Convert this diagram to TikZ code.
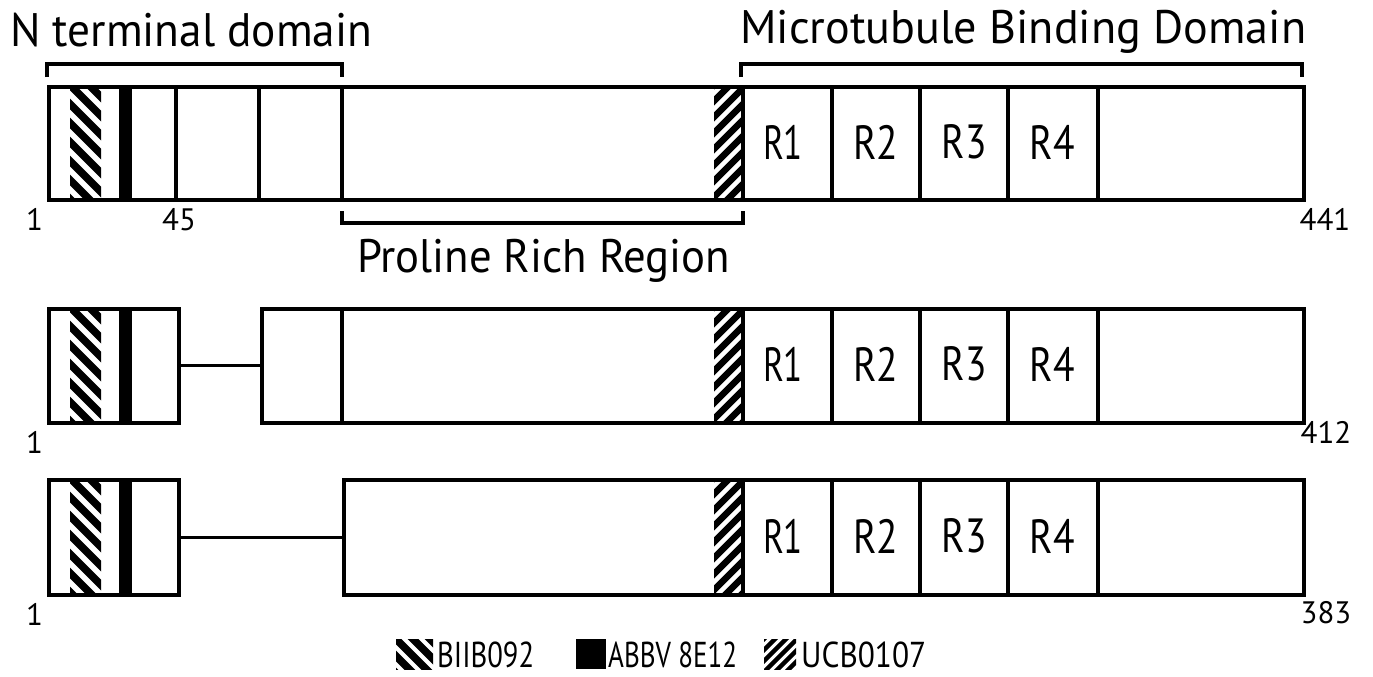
\documentclass[tikz,border=0pt]{standalone}
\usepackage{fontspec}
\setmainfont{PT Sans}
\usepackage{graphicx}
\newcommand\fitw[2]{\resizebox{#1pt}{\height}{#2}}
\newcommand\hatchback[5]{% x1 y1 x2 y2 period  "\" stripes
  \begin{scope}\clip (#1,#2) rectangle (#3,#4);
  \foreach \k in {-4,...,12} \draw[line width=7.5pt] (#1-60,#2+\k*#5-60) -- ++(200,200);
  \end{scope}}
\newcommand\hatchfwd[6]{% x1 y1 x2 y2 period width  "/" stripes
  \begin{scope}\clip (#1,#2) rectangle (#3,#4);
  \foreach \k in {-4,...,14} \draw[line width=#6pt] (#1-60,#2+\k*#5+60) -- ++(200,-200);
  \end{scope}}
\begin{document}
\begin{tikzpicture}[x=1pt,y=-1pt,
  seg/.style={draw, line width=3.8pt, rectangle, inner sep=0pt, anchor=north west, minimum height=113pt},
  div/.style={line width=3.2pt},
  brk/.style={line width=3.2pt},
  conn/.style={line width=3pt},
  big/.style={font=\fontsize{47}{50}\selectfont, inner sep=0pt, anchor=base west},
  rlab/.style={font=\fontsize{48}{50}\selectfont, inner sep=0pt},
  num/.style={font=\fontsize{31}{33}\selectfont, inner sep=0pt, anchor=base},
  leg/.style={font=\fontsize{36}{38}\selectfont, inner sep=0pt, anchor=base west},
]
\useasboundingbox (0,0) rectangle (1373,677);

% ---------- row 1 ----------
\hatchback{70}{85}{101}{198}{19}
\fill (119,85) rectangle (132,198);
\hatchfwd{714}{85}{743}{198}{16}{6.5}
\node[seg, minimum width=1255pt] (r1) at (47,85) {};
\foreach \x in {176,259,342,743,832,920,1008,1098}
  \draw[div] (\x,85) -- (\x,198);
\node[rlab] (r1a) at (783,142) {\fitw{40}{R1}};
\node[rlab] (r1b) at (876,142) {\fitw{45}{R2}};
\node[rlab] (r1c) at (964,142) {\fitw{45}{R3}};
\node[rlab] (r1d) at (1052,142) {\fitw{45}{R4}};
\node[num] (n1a) at (34.5,230) {1};
\node[num] (n1b) at (179,230) {45};
\node[num] (n1c) at (1325,230) {441};

% brackets and domain labels
\draw[brk] (47,77) -- (47,64) -- (342,64) -- (342,77);
\draw[brk] (741,77) -- (741,64) -- (1302,64) -- (1302,77);
\draw[brk] (342,211) -- (342,223) -- (743,223) -- (743,211);
\node[big] (nterm) at (10,47) {\fitw{362}{N terminal domain}};
\node[big] (mbd) at (740,44) {\fitw{566}{Microtubule Binding Domain}};
\node[big] (prr) at (357,272) {\fitw{373}{Proline Rich Region}};

% ---------- row 2 ----------
\hatchback{70}{307}{101}{421}{19}
\fill (119,307) rectangle (132,421);
\hatchfwd{714}{307}{743}{421}{16}{6.5}
\node[seg, minimum width=130pt, minimum height=114pt] (r2l) at (47,307) {};
\node[seg, minimum width=1042pt, minimum height=114pt] (r2r) at (260,307) {};
\foreach \x in {342,743,832,920,1008,1098}
  \draw[div] (\x,307) -- (\x,421);
\draw[conn] (r2l.east) -- (r2r.west);
\node[rlab] (r2a) at (783,364) {\fitw{40}{R1}};
\node[rlab] (r2b) at (876,364) {\fitw{45}{R2}};
\node[rlab] (r2c) at (964,364) {\fitw{45}{R3}};
\node[rlab] (r2d) at (1052,364) {\fitw{45}{R4}};
\node[num] (n2a) at (34.5,453) {1};
\node[num] (n2c) at (1326,443) {412};

% ---------- row 3 ----------
\hatchback{70}{478}{101}{593}{19}
\fill (119,478) rectangle (132,593);
\hatchfwd{714}{478}{743}{593}{16}{6.5}
\node[seg, minimum width=130pt, minimum height=115pt] (r3l) at (47,478) {};
\node[seg, minimum width=960pt, minimum height=115pt] (r3r) at (342,478) {};
\foreach \x in {743,832,920,1008,1098}
  \draw[div] (\x,478) -- (\x,593);
\draw[conn] (r3l.east) -- (r3r.west);
\node[rlab] (r3a) at (783,536) {\fitw{40}{R1}};
\node[rlab] (r3b) at (876,536) {\fitw{45}{R2}};
\node[rlab] (r3c) at (964,536) {\fitw{45}{R3}};
\node[rlab] (r3d) at (1052,536) {\fitw{45}{R4}};
\node[num] (n3a) at (34.5,625) {1};
\node[num] (n3c) at (1326,623) {383};

% ---------- legend ----------
\hatchback{396}{639}{433}{669}{17}
\node[leg] (l1) at (437,667) {\fitw{97}{BIIB092}};
\fill (576,639) rectangle (606,669);
\node[leg] (l2) at (608,667) {\fitw{129}{ABBV 8E12}};
\hatchfwd{764}{639}{796}{669}{11}{4.5}
\node[leg] (l3) at (801,667) {\fitw{125}{UCB0107}};
\end{tikzpicture}
\end{document}
